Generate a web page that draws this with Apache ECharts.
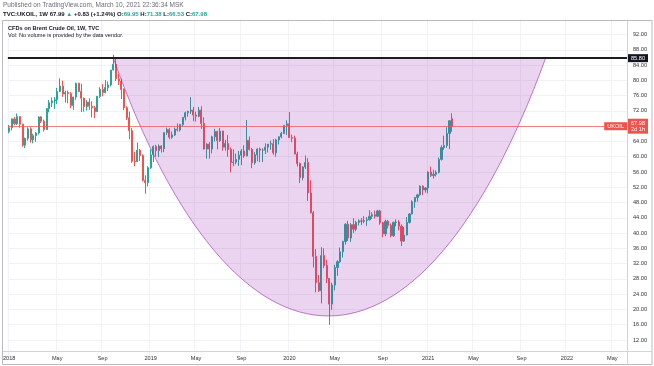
<!DOCTYPE html>
<html><head><meta charset="utf-8">
<script src="https://cdn.jsdelivr.net/npm/echarts@6/dist/echarts.min.js"></script>
<style>html,body{margin:0;padding:0;background:#fff}#c{width:654px;height:366px}</style>
</head><body><div id="c"></div>
<script>
// ---- data (weekly Brent CFD, TVC:UKOIL) ----
const startDate = '2018-01-01';
const weekCount = 232; // visible weekly slots incl. future space
const opens = [
66.6,67.6,69.9,68.6,70.5,68.5,63.0,64.8,67.3,64.4,65.5,66.2,70.4,69.3,67.1,72.6,74.1,74.6,74.9,77.1,
78.5,76.4,76.8,76.5,73.4,75.6,79.2,77.1,75.3,73.1,74.3,73.2,72.8,71.8,75.8,77.6,76.8,78.1,78.8,82.7,
84.2,80.4,79.8,77.6,72.8,70.2,66.8,58.8,58.7,61.7,60.3,53.8,53.2,
57.1,60.5,62.7,61.6,62.8,62.1,66.3,67.1,65.1,65.7,67.2,67.0,68.4,70.3,71.5,71.9,72.2,70.9,70.6,72.2,
68.7,62.0,63.3,62.0,65.2,66.6,64.2,66.7,62.5,63.5,61.9,58.5,58.6,59.3,60.4,61.5,60.2,64.3,61.9,58.4,
60.5,62.0,61.7,61.7,62.5,63.3,63.4,61.0,64.4,65.2,66.1,68.2,
68.6,65.0,64.85,60.7,58.2,54.5,57.3,58.5,50.5,45.3,33.9,27.0,24.9,34.1,31.5,28.1,21.4,26.4,31.0,32.5,
35.1,37.8,42.3,38.7,42.2,41.0,42.8,43.2,43.1,43.3,43.5,44.4,44.8,44.4,45.8,42.7,39.8,43.1,42.0,39.3,
42.8,42.9,41.8,37.9,39.5,42.8,45.0,48.2,49.3,50.0,52.3,51.3,
51.8,56.0,55.1,55.4,55.9,59.3,62.4,62.9,66.1,69.95];
const highs = [
68.3,70.0,70.4,71.3,70.6,68.6,65.0,67.7,67.7,66.0,66.4,70.6,70.6,69.7,72.7,74.8,75.5,75.6,78.0,80.5,
79.9,77.3,77.3,76.9,75.7,79.4,79.4,79.1,75.5,74.8,75.3,74.5,73.3,75.9,78.2,79.0,80.1,79.7,82.7,86.7,
85.8,81.7,80.5,77.9,73.2,71.8,67.5,61.3,63.7,62.0,60.6,55.1,57.5,
61.9,62.9,63.1,63.2,63.0,66.4,67.6,67.5,66.6,67.6,68.7,68.6,70.4,71.8,72.0,75.6,73.0,71.8,73.0,73.2,
70.3,63.5,63.8,65.5,67.3,66.8,67.5,66.8,64.4,65.7,62.4,61.9,60.8,61.5,62.0,63.0,69.6,65.3,62.3,61.2,
62.2,62.4,62.2,63.5,63.3,64.2,64.6,64.7,65.3,66.5,68.2,69.5,
71.7,65.8,65.5,61.3,58.5,57.5,60.3,59.6,53.8,45.8,35.8,29.0,36.3,36.0,33.0,28.2,27.0,31.7,32.9,36.2,
38.0,42.6,43.2,42.6,43.9,43.2,43.6,43.9,44.4,44.2,46.0,45.5,45.9,46.1,46.1,42.9,43.5,43.4,42.5,43.0,
43.6,43.4,42.3,41.6,44.2,45.2,48.6,49.5,50.3,52.5,52.5,52.0,
56.2,57.4,56.6,56.4,59.8,63.0,65.5,67.7,69.6,71.38];
const lows = [
66.1,66.9,68.2,68.3,67.6,62.6,62.3,64.2,63.7,63.5,63.9,65.8,68.8,66.6,67.0,71.6,73.0,72.5,73.8,77.0,
75.7,74.2,74.0,72.7,72.3,74.9,76.9,71.7,71.8,72.1,72.3,70.3,70.1,71.7,75.4,75.8,76.6,77.2,78.4,82.6,
79.8,78.8,75.1,72.2,69.6,64.6,58.4,57.5,58.6,58.9,53.5,50.3,52.2,
56.8,58.6,60.0,59.9,61.1,61.2,65.7,64.6,64.7,65.4,66.6,66.6,67.8,69.5,70.5,71.2,69.3,69.2,70.3,67.3,
61.9,59.5,59.5,60.9,64.0,61.9,63.9,61.6,61.6,60.0,55.9,57.5,58.0,57.6,57.8,59.7,60.1,61.6,57.0,57.9,
58.8,58.6,58.6,60.7,61.1,61.8,60.5,60.0,63.2,64.8,65.9,65.7,
64.9,63.8,60.6,57.4,53.1,53.8,56.8,48.4,45.2,31.0,24.5,24.6,21.6,30.8,26.9,15.98,19.9,25.0,28.8,32.2,
33.6,37.0,37.9,37.7,40.0,40.5,42.0,42.1,42.6,41.9,43.3,43.7,43.8,44.2,42.2,38.9,39.2,41.2,38.9,39.0,
41.8,40.7,36.6,37.7,39.4,42.5,44.9,46.6,48.2,49.8,49.9,50.6,
50.4,54.7,54.3,54.8,55.6,59.0,61.8,62.3,62.0,66.53];
const closes = [
67.6,69.9,68.6,70.5,68.5,63.0,64.8,67.3,64.4,65.5,66.2,70.4,69.3,67.1,72.6,74.1,74.6,74.9,77.1,78.5,
76.4,76.8,76.5,73.4,75.6,79.2,77.1,75.3,73.1,74.3,73.2,72.8,71.8,75.8,77.6,76.8,78.1,78.8,82.7,84.2,
80.4,79.8,77.6,72.8,70.2,66.8,58.8,58.7,61.7,60.3,53.8,53.2,57.1,
60.5,62.7,61.6,62.8,62.1,66.3,67.1,65.1,65.7,67.2,67.0,68.4,70.3,71.5,71.9,72.2,70.9,70.6,72.2,68.7,
62.0,63.3,62.0,65.2,66.6,64.2,66.7,62.5,63.5,61.9,58.5,58.6,59.3,60.4,61.5,60.2,64.3,61.9,58.4,60.5,
62.0,61.7,61.7,62.5,63.3,63.4,61.0,64.4,65.2,66.1,68.2,68.6,
65.0,64.85,60.7,58.2,54.5,57.3,58.5,50.5,45.3,33.9,27.0,24.9,34.1,31.5,28.1,21.4,26.4,31.0,32.5,35.1,
37.8,42.3,38.7,42.2,41.0,42.8,43.2,43.1,43.3,43.5,44.4,44.8,44.4,45.8,42.7,39.8,43.1,42.0,39.3,42.8,
42.9,41.8,37.9,39.5,42.8,45.0,48.2,49.3,50.0,52.3,51.3,51.8,
56.0,55.1,55.4,55.9,59.3,62.4,62.9,66.1,69.4,67.98];

const timeTicks = ['2018-01-01','2018-05-07','2018-09-03','2019-01-07','2019-05-06','2019-09-02','2020-01-06','2020-05-04','2020-09-07','2021-01-04','2021-05-03','2021-09-06','2022-01-03','2022-05-02'];
const timeTickLabels = ['2018','May','Sep','2019','May','Sep','2020','May','Sep','2021','May','Sep','2022','May'];
const priceMin = 8, priceMax = 96, priceStep = 4;
const resistanceLevel = 85.80;
const lastPrice = 67.98;
// cup drawing anchors: [week index, price] — start, control1, control2, end (cubic curve)
const cupStart = [39, 85.8];
const cupCtrl1 = [85, -4.2];
const cupCtrl2 = [154, -4.2];
const cupEnd = [201, 85.8];

// ---- build ----
const weeks = [];
const t0 = Date.parse(startDate + 'T00:00:00Z');
for (let i = 0; i < weekCount; i++) {
  weeks.push(new Date(t0 + i * 7 * 86400000).toISOString().slice(0, 10));
}
const candles = opens.map((o, i) => [o, closes[i], lows[i], highs[i]]);
const tickMap = {};
timeTicks.forEach((d, i) => tickMap[d] = timeTickLabels[i]);
const isTick = (i, v) => tickMap[v] !== undefined;

const FONT = 'Liberation Sans';
const chart = echarts.init(document.getElementById('c'), null, {renderer: 'canvas'});
chart.setOption({
  animation: false,
  backgroundColor: '#ffffff',
  textStyle: {fontFamily: FONT},
  title: [
    {text: 'Published on TradingView.com, March 10, 2021 22:36:34 MSK', left: 3, top: 2, padding: 0,
     textStyle: {fontFamily: FONT, fontSize: 6.5, fontWeight: 'normal', color: '#6a6d78'}},
    {text: '{b|TVC:UKOIL, 1W} {n|67.99} {g|▲} {n|+0.83 (+1.24%)} {n|O:}{g|69.95} {n|H:}{g|71.38} {n|L:}{g|66.53} {n|C:}{g|67.98}',
     left: 3, top: 11.5, padding: 0,
     textStyle: {fontSize: 6, rich: {
       b: {fontFamily: FONT, fontSize: 6, fontWeight: 'bold', color: '#131722'},
       n: {fontFamily: FONT, fontSize: 6, color: '#131722'},
       g: {fontFamily: FONT, fontSize: 6, color: '#26a69a'}}}},
    {text: 'CFDs on Brent Crude Oil, 1W, TVC', left: 8, top: 25, padding: 0,
     textStyle: {fontFamily: FONT, fontSize: 5.6, fontWeight: 'bold', color: '#131722'}},
    {text: 'Vol: No volume is provided by the data vendor.', left: 8, top: 32, padding: 0,
     textStyle: {fontFamily: FONT, fontSize: 5.6, fontWeight: 'normal', color: '#131722'}}
  ],
  grid: {left: 3, right: 27, top: 19.2, bottom: 10.7, containLabel: false},
  xAxis: {
    type: 'category', data: weeks, boundaryGap: true, offset: -4.3,
    axisLine: {show: false}, axisTick: {show: false},
    axisLabel: {interval: isTick, formatter: v => tickMap[v] || '', fontSize: 5.6, color: '#333', margin: 4, fontFamily: FONT, hideOverlap: false},
    splitLine: {show: true, interval: isTick, lineStyle: {color: '#f1f2f6', width: 1}}
  },
  yAxis: {
    type: 'value', position: 'right', min: priceMin, max: priceMax, interval: priceStep, scale: true,
    axisLine: {show: false}, axisTick: {show: false},
    axisLabel: {fontSize: 5.6, color: '#333', margin: 6, fontFamily: FONT,
      formatter: v => (v <= priceMin || v >= priceMax) ? '' : v.toFixed(2)},
    splitLine: {show: true, showMinLine: false, showMaxLine: false, lineStyle: {color: '#f1f2f6', width: 1}}
  },
  series: [
    {
      type: 'candlestick', data: candles, z: 2, barWidth: 1.6,
      itemStyle: {color: '#26a69a', color0: '#ef5350', borderColor: '#26a69a', borderColor0: '#ef5350', borderWidth: 1},
      markLine: {
        silent: true, symbol: 'none', z: 6, animation: false,
        data: [
          {yAxis: resistanceLevel, lineStyle: {color: '#1e1e1e', width: 2, type: 'solid'},
           label: {show: true, position: 'end', distance: 1, formatter: resistanceLevel.toFixed(2), color: '#fff', backgroundColor: '#131722', padding: [1, 3], fontSize: 5.6, fontFamily: FONT}},
          {yAxis: lastPrice, lineStyle: {color: 'rgba(239,83,80,0.45)', width: 1, type: 'solid'},
           label: {show: true, position: 'end', distance: 1, formatter: lastPrice.toFixed(2) + '\n2d 1h', color: '#fff', backgroundColor: '#ef5350', padding: [1, 3], fontSize: 5.6, lineHeight: 6.5, fontFamily: FONT}},
          {yAxis: lastPrice, lineStyle: {color: 'rgba(239,83,80,0.45)', width: 1, type: 'solid'},
           label: {show: true, position: 'insideEnd', distance: 0, formatter: 'UKOIL', color: '#fff', backgroundColor: '#ef5350', padding: [1, 3], fontSize: 5.6, fontFamily: FONT}}
        ]
      }
    },
    {
      type: 'custom', z: 4, silent: true,
      data: [[cupStart[0], cupStart[1], cupCtrl1[0], cupCtrl1[1], cupCtrl2[0], cupCtrl2[1], cupEnd[0], cupEnd[1]]],
      encode: {x: [0, 2, 4, 6], y: [1, 3, 5, 7]},
      renderItem: function (params, api) {
        const p0 = api.coord([api.value(0), api.value(1)]);
        const c1 = api.coord([api.value(2), api.value(3)]);
        const c2 = api.coord([api.value(4), api.value(5)]);
        const p3 = api.coord([api.value(6), api.value(7)]);
        return {
          type: 'bezierCurve',
          shape: {x1: p0[0], y1: p0[1], cpx1: c1[0], cpy1: c1[1], cpx2: c2[0], cpy2: c2[1], x2: p3[0], y2: p3[1]},
          style: {fill: 'rgba(156,39,176,0.2)', stroke: 'rgba(156,39,176,0.6)', lineWidth: 1}
        };
      }
    }
  ],
  graphic: [
    {type: 'rect', silent: true, z: 100, shape: {x: 2.5, y: 20.5, width: 649.5, height: 344}, style: {fill: null, stroke: '#b8bbc4', lineWidth: 1}},
    {type: 'line', silent: true, z: 100, shape: {x1: 3, y1: 351.5, x2: 652, y2: 351.5}, style: {stroke: '#d1d4dc', lineWidth: 1}},
    {type: 'line', silent: true, z: 100, shape: {x1: 627.5, y1: 21, x2: 627.5, y2: 365}, style: {stroke: '#d1d4dc', lineWidth: 1}}
  ]
});
</script>
</body></html>
